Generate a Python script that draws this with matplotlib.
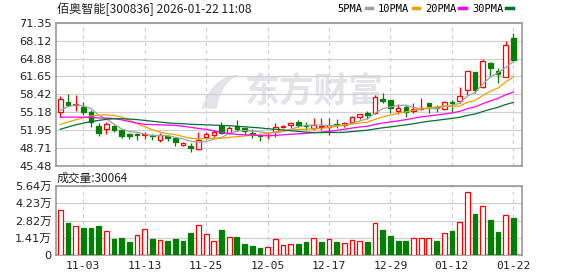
import numpy as np
import matplotlib
matplotlib.use("Agg")
import matplotlib.pyplot as plt
from matplotlib.patches import Rectangle, PathPatch
from matplotlib.path import Path
from matplotlib.lines import Line2D

plt.rcParams['font.family'] = ['DejaVu Sans', 'Noto Sans CJK SC']

TITLE = "佰奥智能[300836] 2026-01-22 11:08"

dates = ['10-29', '10-30', '10-31', '11-03', '11-04', '11-05', '11-06', '11-07', '11-10', '11-11',
         '11-12', '11-13', '11-14', '11-17', '11-18', '11-19', '11-20', '11-21', '11-24', '11-25',
         '11-26', '11-27', '11-28', '12-01', '12-02', '12-03', '12-04', '12-05', '12-08', '12-09',
         '12-10', '12-11', '12-12', '12-15', '12-16', '12-17', '12-18', '12-19', '12-22', '12-23',
         '12-24', '12-25', '12-26', '12-29', '12-30', '12-31', '01-05', '01-06', '01-07', '01-08',
         '01-09', '01-12', '01-13', '01-14', '01-15', '01-16', '01-19', '01-20', '01-21', '01-22']

open_ = [55.17, 57.08, 56.43, 56.18, 55.17, 52.69, 52.20, 52.69, 51.91, 51.19,
         51.19, 51.10, 51.06, 50.16, 50.88, 50.46, 49.20, 49.13, 48.53, 50.65,
         51.06, 52.74, 51.37, 52.69, 52.27, 51.42, 51.06, 51.00, 51.66, 52.45,
         52.80, 53.47, 52.80, 52.38, 52.50, 52.45, 52.99, 52.80, 53.47, 54.31,
         55.00, 54.98, 57.57, 57.39, 55.40, 56.07, 55.46, 55.70, 56.79, 56.18,
         55.70, 57.08, 57.21, 59.20, 62.45, 59.79, 64.13, 62.63, 61.60, 68.54]
high = [58.11, 58.42, 58.29, 57.08, 55.58, 53.29, 53.36, 52.87, 51.91, 51.48,
        51.48, 51.66, 51.30, 51.37, 51.06, 50.64, 49.80, 49.67, 51.60, 51.66,
        51.96, 53.36, 52.63, 53.77, 52.40, 52.09, 51.48, 51.66, 53.29, 52.90,
        53.36, 53.83, 53.36, 54.08, 54.08, 54.08, 53.90, 53.36, 54.55, 54.90,
        55.40, 58.29, 58.60, 57.39, 56.60, 56.49, 56.79, 57.70, 56.85, 56.49,
        57.20, 57.39, 59.69, 62.70, 62.50, 64.75, 64.31, 63.12, 68.06, 69.56]
low = [54.37, 56.40, 55.40, 54.68, 52.56, 50.93, 51.19, 51.55, 50.46, 50.28,
       50.10, 50.30, 50.16, 49.85, 49.98, 49.13, 49.10, 47.93, 48.44, 50.30,
       50.75, 51.19, 51.19, 51.78, 51.06, 50.46, 49.98, 50.30, 50.75, 52.30,
       52.27, 52.50, 51.97, 51.97, 52.00, 51.06, 52.27, 52.56, 53.36, 54.00,
       53.95, 54.86, 56.79, 54.98, 54.80, 54.37, 54.98, 55.58, 54.98, 55.27,
       55.58, 55.27, 56.79, 58.30, 58.70, 59.50, 61.73, 60.52, 61.49, 64.31]
close = [57.57, 56.49, 56.67, 55.27, 53.36, 51.48, 53.05, 52.02, 50.93, 50.90,
         51.00, 51.20, 50.83, 51.06, 50.46, 49.74, 49.71, 48.66, 50.16, 51.19,
         51.66, 51.37, 52.38, 52.14, 51.84, 51.06, 50.88, 51.15, 52.56, 52.74,
         53.23, 52.87, 52.63, 52.87, 52.69, 52.87, 52.80, 53.23, 54.37, 54.80,
         54.73, 57.99, 57.21, 56.00, 55.95, 55.22, 55.82, 55.90, 56.30, 55.94,
         56.97, 56.79, 58.06, 62.63, 59.20, 64.49, 63.23, 62.04, 67.33, 64.62]

# volume in lots (手)
volume = [36500, 26000, 23300, 21900, 21900, 23500, 19500, 13000, 13800, 10500,
          16000, 21600, 13000, 11900, 11400, 13000, 11400, 17800, 24900, 16800,
          11100, 20300, 15100, 14600, 8900, 7300, 5700, 6200, 12700, 7800,
          8600, 8900, 10500, 14300, 10500, 12700, 10500, 9500, 11900, 11100,
          10500, 26500, 20300, 15400, 11400, 11400, 14300, 14300, 13500, 11400,
          17600, 19500, 27300, 51900, 33300, 40300, 28400, 18700, 33000, 30064]

ma5 = [55.5, 56.2, 56.5, 56.3, 55.87, 54.65, 53.97, 53.04, 52.17, 51.68,
       51.58, 51.21, 50.97, 51.0, 50.91, 50.66, 50.36, 49.93, 49.75, 49.89,
       50.28, 50.61, 51.35, 51.75, 51.88, 51.76, 51.66, 51.41, 51.50, 51.68,
       52.11, 52.51, 52.81, 52.87, 52.86, 52.79, 52.77, 52.89, 53.19, 53.61,
       53.99, 55.02, 55.82, 56.15, 56.38, 56.47, 56.04, 55.78, 55.84, 55.84,
       56.19, 56.38, 56.81, 58.08, 58.73, 60.23, 61.52, 62.32, 63.26, 64.34]
ma10 = [52.99, 53.4, 53.8, 54.2, 54.5, 54.65, 54.7, 54.6, 54.3, 53.77,
        53.12, 52.60, 52.01, 51.59, 51.30, 51.13, 50.80, 50.46, 50.38, 50.40,
        50.47, 50.48, 50.64, 50.75, 50.89, 51.02, 51.13, 51.38, 51.62, 51.78,
        51.94, 52.09, 52.11, 52.18, 52.27, 52.45, 52.64, 52.85, 53.03, 53.24,
        53.39, 53.90, 54.36, 54.67, 54.99, 55.24, 55.54, 55.80, 56.00, 56.11,
        56.34, 56.22, 56.30, 56.96, 57.28, 58.21, 58.95, 59.57, 60.67, 61.54]
ma20 = [54.3, 54.3, 54.3, 54.3, 54.25, 54.15, 54.1, 54.05, 53.8, 53.5,
        53.2, 53.0, 52.95, 52.9, 52.85, 52.8, 52.65, 52.45, 52.25, 52.09,
        51.80, 51.54, 51.33, 51.17, 51.09, 51.07, 50.96, 50.92, 51.00, 51.09,
        51.20, 51.28, 51.37, 51.47, 51.58, 51.73, 51.89, 52.12, 52.33, 52.51,
        52.66, 52.99, 53.23, 53.43, 53.63, 53.84, 54.09, 54.33, 54.51, 54.67,
        54.86, 55.06, 55.33, 55.82, 56.14, 56.72, 57.24, 57.68, 58.33, 58.82]
ma30 = [52.1, 52.5, 52.9, 53.2, 53.5, 53.7, 53.9, 54.0, 54.0, 53.95,
        53.85, 53.7, 53.55, 53.4, 53.25, 53.15, 53.1, 53.0, 52.95, 52.9,
        52.85, 52.8, 52.75, 52.65, 52.55, 52.45, 52.35, 52.2, 52.1, 51.99,
        51.84, 51.72, 51.59, 51.51, 51.49, 51.53, 51.52, 51.56, 51.68, 51.81,
        51.93, 52.16, 52.37, 52.53, 52.72, 52.90, 53.10, 53.35, 53.55, 53.71,
        53.89, 54.07, 54.26, 54.61, 54.85, 55.30, 55.71, 56.07, 56.57, 56.96]

price_ticks = [45.48, 48.71, 51.95, 55.18, 58.42, 61.65, 64.88, 68.12, 71.35]
vol_ticks = [0, 1.41, 2.82, 4.23, 5.64]
vol_labels = ['0', '1.41万', '2.82万', '4.23万', '5.64万']
date_labels = ['11-03', '11-13', '11-25', '12-05', '12-17', '12-29', '01-12', '01-22']

ma_names = ['5PMA', '10PMA', '20PMA', '30PMA']
ma_colors = ['#a0a0a0', '#f0a000', '#ff00ff', '#007030']

RED = '#ff0000'
GREEN = '#008000'
FRAME = '#999999'
GRID = '#d0d0d0'
WATERMARK = '#e4e4e8'

o = np.array(open_)
h = np.array(high)
l = np.array(low)
c = np.array(close)
v = np.array(volume) / 1e4
x = np.arange(len(dates))
up = c >= o
vol_up = np.r_[c[0] >= o[0], np.diff(c) > 0]
tick_pos = [dates.index(d) for d in date_labels]

fig = plt.figure(figsize=(5.78, 2.76), dpi=100)
ax = fig.add_axes([56 / 578, 1 - 165.9 / 276, 466 / 578, 143.1 / 276])
axv = fig.add_axes([56 / 578, 1 - 255 / 276, 466 / 578, 69 / 276])

xlim = (-0.55, 60.13)
w = 0.6

# price panel
for i in x:
    col = RED if up[i] else GREEN
    ax.plot([i, i], [l[i], h[i]], color=col, lw=0.9, zorder=2, solid_capstyle='butt')
    bottom = min(o[i], c[i])
    height = max(abs(c[i] - o[i]), 0.08)
    ax.add_patch(Rectangle((i - w / 2, bottom), w, height,
                           facecolor='white' if up[i] else GREEN,
                           edgecolor=col, lw=0.9, zorder=3))

for ma, col in zip([ma5, ma10, ma20, ma30], ma_colors):
    ax.plot(x, ma, color=col, lw=0.9, zorder=4)

ax.set_xlim(*xlim)
ax.set_ylim(price_ticks[0], price_ticks[-1])
ax.set_yticks(price_ticks)
ax.set_yticklabels([f"{t:.2f}" for t in price_ticks])
ax.set_xticks(tick_pos)
ax.set_xticklabels([])

# watermark: rough flame logo + text
flame = Path([(0.312, 0.40), (0.330, 0.58), (0.365, 0.64), (0.392, 0.635),
              (0.368, 0.60), (0.350, 0.52), (0.345, 0.40), (0.312, 0.40)],
             [Path.MOVETO, Path.CURVE4, Path.CURVE4, Path.CURVE4,
              Path.CURVE4, Path.CURVE4, Path.CURVE4, Path.CLOSEPOLY])
ax.add_patch(PathPatch(flame, transform=ax.transAxes, facecolor=WATERMARK,
                       edgecolor='none', zorder=0.5))
ax.text(0.405, 0.52, '东方财富', transform=ax.transAxes, fontsize=25, color=WATERMARK,
        fontweight='bold', family=['Noto Sans CJK SC'], ha='left', va='center', zorder=0.5)

# volume panel
vol_face = ['white' if u else GREEN for u in vol_up]
vol_edge = [RED if u else GREEN for u in vol_up]
axv.bar(x, v, width=0.62, color=vol_face, edgecolor=vol_edge, lw=0.9, zorder=3)
axv.set_xlim(*xlim)
axv.set_ylim(0, vol_ticks[-1])
axv.set_yticks(vol_ticks)
axv.set_yticklabels(vol_labels)
axv.set_xticks(tick_pos)
axv.set_xticklabels(date_labels, color=RED, family=['DejaVu Sans Mono'], fontsize=8.3)

for a in (ax, axv):
    a.grid(axis='y', color=GRID, lw=0.9, zorder=0)
    a.grid(axis='x', color=GRID, lw=0.9, ls=(0, (3, 3)), zorder=0)
    a.set_axisbelow(True)
    for s in a.spines.values():
        s.set_color(FRAME)
        s.set_linewidth(1.2)
    a.tick_params(length=0, labelsize=8.2, labelcolor='#222222', pad=3)
axv.tick_params(axis='x', pad=4)

# title and legend
fig.text(57 / 578, 1 - 9 / 276, TITLE, fontsize=8.7, va='center', ha='left',
         family=['Noto Sans CJK SC'], color='#222222')
fig.text(57 / 578, 1 - 178 / 276, f"成交量:{volume[-1]}", fontsize=8.5, va='center', ha='left',
         family=['Noto Sans CJK SC'], color='#222222')

handles = [Line2D([], [], color=col, lw=2.5) for col in ma_colors]
fig.legend(handles, ma_names, loc='center', bbox_to_anchor=(425 / 578, 1 - 9 / 276),
           ncol=4, frameon=False, markerfirst=False, handlelength=0.6, handletextpad=0.3,
           columnspacing=0.6, prop={'family': 'DejaVu Sans Mono', 'size': 7.5})

fig.savefig('out.png', dpi=100)
